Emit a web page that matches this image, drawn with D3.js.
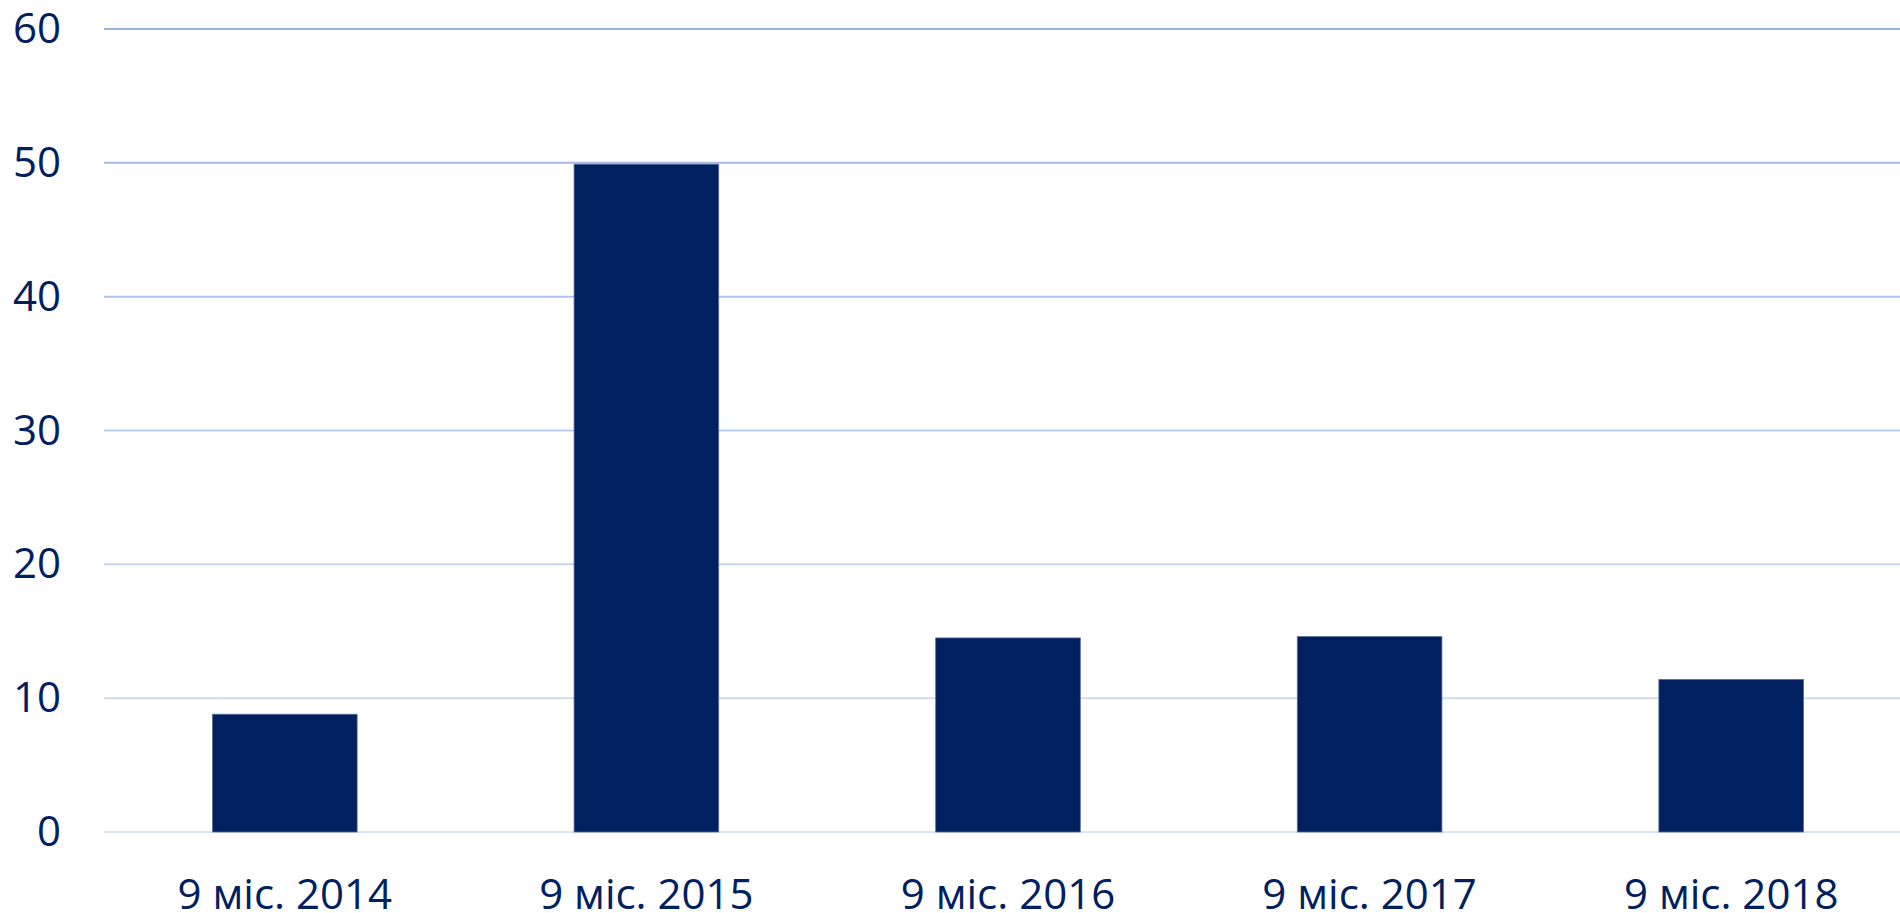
<!DOCTYPE html>
<html>
<head>
<meta charset="utf-8">
<script src="https://cdn.jsdelivr.net/npm/d3@7"></script>
<style>
  html, body { margin: 0; padding: 0; background: #fff; }
  svg text { font-family: "Open Sans", "Noto Sans", sans-serif; fill: #002060; }
</style>
</head>
<body>
<svg id="chart" width="1900" height="913"></svg>
<script>
const categories = ['9 міс. 2014', '9 міс. 2015', '9 міс. 2016', '9 міс. 2017', '9 міс. 2018'];
const values = [8.8, 49.9, 14.5, 14.6, 11.4];
const yTicks = [0, 10, 20, 30, 40, 50, 60];

const width = 1900;
const height = 913;
const plotLeft = 104;
const plotRight = 1912;
const plotTop = 29;
const plotBottom = 832;

const svg = d3.select('#chart');

const x = d3.scaleBand()
  .domain(categories)
  .range([plotLeft, plotRight])
  .paddingInner(0.6)
  .paddingOuter(0.3);

const y = d3.scaleLinear()
  .domain([0, 60])
  .range([plotBottom, plotTop]);

// gridlines get darker toward the top
const gridColor = d3.scaleLinear()
  .domain([0, 60])
  .range(['#dce5f5', '#97b1e5']);

svg.append('g')
  .selectAll('line')
  .data(yTicks)
  .join('line')
  .attr('x1', plotLeft)
  .attr('x2', plotRight)
  .attr('y1', d => y(d))
  .attr('y2', d => y(d))
  .attr('stroke', d => gridColor(d))
  .attr('stroke-width', 2);

// y axis labels
svg.append('g')
  .selectAll('text')
  .data(yTicks)
  .join('text')
  .attr('x', 61)
  .attr('y', d => y(d) + 14)
  .attr('text-anchor', 'end')
  .attr('font-size', 42)
  .text(d => d);

// bars
svg.append('g')
  .selectAll('rect')
  .data(values)
  .join('rect')
  .attr('x', (d, i) => x(categories[i]))
  .attr('y', d => y(d))
  .attr('width', x.bandwidth())
  .attr('height', d => y(0) - y(d))
  .attr('fill', '#002060')
  .attr('stroke', '#5a6e9a')
  .attr('stroke-width', 0.8);

// x axis labels
svg.append('g')
  .selectAll('text')
  .data(categories)
  .join('text')
  .attr('x', d => x(d) + x.bandwidth() / 2)
  .attr('y', 909)
  .attr('text-anchor', 'middle')
  .attr('font-size', 42)
  .text(d => d);
</script>
</body>
</html>
